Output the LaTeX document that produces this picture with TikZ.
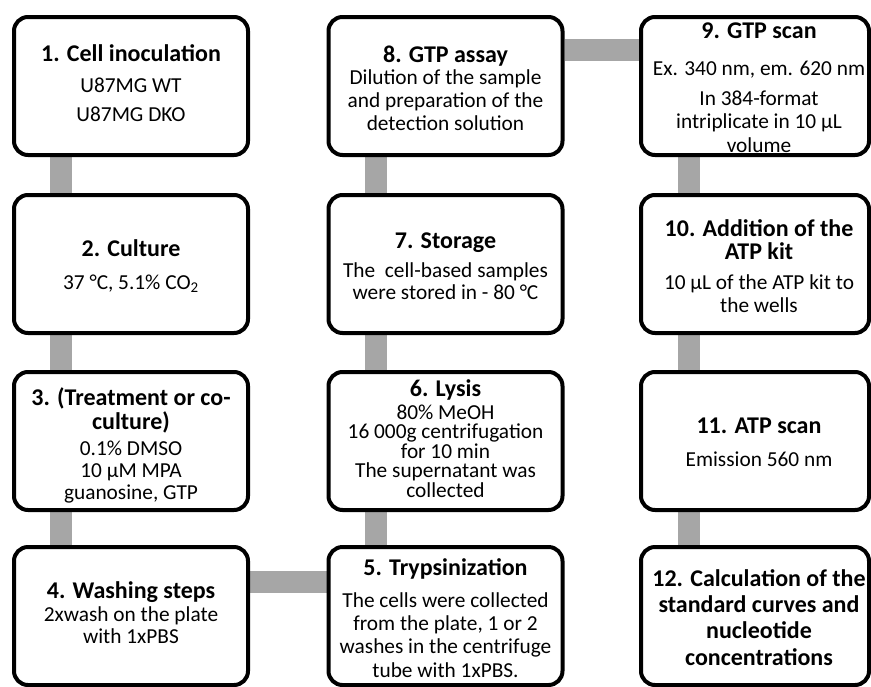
\documentclass[tikz,border=0pt]{standalone}
\usepackage{fontspec}
\setmainfont{Carlito}
\usetikzlibrary{calc,backgrounds}
\definecolor{conngray}{RGB}{166,166,166}
\newcommand{\ttlfont}{\fontsize{18}{20}\selectfont\bfseries}
\newcommand{\bdyfont}{\fontsize{16}{19}\selectfont}
\begin{document}
\begin{tikzpicture}[x=0.75pt,y=-0.75pt,
  box/.style={draw=black, line width=3pt, rounded corners=10.5pt, fill=white,
    minimum width=175.5pt, minimum height=103.5pt, inner sep=0pt},
  narrowbox/.style={box, minimum width=171pt},
  ttl/.style={anchor=base, inner sep=0pt, align=center, font=\ttlfont},
  bdy/.style={anchor=base, inner sep=0pt, align=center, font=\bdyfont},
  conn/.style={draw=conngray, line width=16.5pt}]
\useasboundingbox (0,0) rectangle (871,686);

% boxes
\node[box] (b1) at (131,86) {};
\node[box] (b2) at (131,264) {};
\node[box] (b3) at (131,441) {};
\node[box] (b4) at (131,616) {};
\node[box] (b8) at (445.5,86) {};
\node[box] (b7) at (445.5,264) {};
\node[box] (b6) at (445.5,441) {};
\node[box] (b5) at (445.5,616) {};
\node[narrowbox] (b9) at (755,86) {};
\node[narrowbox] (b10) at (755,264) {};
\node[narrowbox] (b11) at (755,441) {};
\node[narrowbox] (b12) at (755,616) {};

% connectors
\begin{scope}[on background layer]
\draw[conn] ($(b1.south)+(-70,0)$) -- ($(b2.north)+(-70,0)$);
\draw[conn] ($(b2.south)+(-70,0)$) -- ($(b3.north)+(-70,0)$);
\draw[conn] ($(b3.south)+(-70,0)$) -- ($(b4.north)+(-70,0)$);
\draw[conn] ($(b4.east)+(0,-34)$) -- ($(b5.west)+(0,-34)$);
\draw[conn] ($(b5.north)+(-70,0)$) -- ($(b6.south)+(-70,0)$);
\draw[conn] ($(b6.north)+(-70,0)$) -- ($(b7.south)+(-70,0)$);
\draw[conn] ($(b7.north)+(-70,0)$) -- ($(b8.south)+(-70,0)$);
\draw[conn] ($(b8.east)+(0,-36)$) -- ($(b9.west)+(0,-36)$);
\draw[conn] ($(b9.south)+(-66,0)$) -- ($(b10.north)+(-66,0)$);
\draw[conn] ($(b10.south)+(-66,0)$) -- ($(b11.north)+(-66,0)$);
\draw[conn] ($(b11.south)+(-66,0)$) -- ($(b12.north)+(-66,0)$);
\end{scope}

% (multi-line text nodes are placed at the baseline of their last line)
% box 1
\node[ttl] (t1a) at (131,61) {1. Cell inoculation};
\node[bdy] (t1b) at (131,92) {U87MG WT};
\node[bdy] (t1c) at (131,121) {U87MG DKO};
% box 2
\node[ttl] (t2a) at (131,256) {2. Culture};
\node[bdy] (t2b) at (131,289) {37 °C, 5.1\% CO\textsubscript{2}};
% box 3
\node[ttl, font={\fontsize{18}{18}\selectfont\bfseries}] (t3a) at (131,429) {3. (Treatment or co-\\culture)};
\node[bdy, font={\fontsize{16}{16.5}\selectfont}] (t3c) at (131,499) {0.1\% DMSO\\10 µM MPA\\guanosine, GTP};
% box 4
\node[ttl] (t4a) at (131,598) {4. Washing steps};
\node[bdy, font={\fontsize{16}{16.5}\selectfont}] (t4b) at (131,643) {2xwash on the plate\\with 1xPBS};
% box 5
\node[ttl] (t5a) at (445.5,575) {5. Trypsinization};
\node[bdy, font={\fontsize{16}{17.5}\selectfont}] (t5b) at (445.5,677) {The cells were collected\\from the plate, 1 or 2\\washes in the centrifuge\\tube with 1xPBS.};
% box 6
\node[ttl] (t6a) at (445.5,396) {6. Lysis};
\node[bdy] (t6b) at (445.5,419) {80\% MeOH};
\node[bdy, font={\fontsize{16}{13.5}\selectfont}] (t6c) at (445.5,458) {16 000g centrifugation\\for 10 min};
\node[bdy, font={\fontsize{16}{13}\selectfont}] (t6e) at (445.5,497) {The supernatant was\\collected};
% box 7
\node[ttl] (t7a) at (445.5,248) {7. Storage};
\node[bdy, font={\fontsize{16}{16.5}\selectfont}] (t7b) at (445.5,299) {The\ \ cell-based samples\\were stored in - 80 °C};
% box 8
\node[ttl] (t8a) at (445.5,62) {8. GTP assay};
\node[bdy, font={\fontsize{16}{17}\selectfont}] (t8b) at (445.5,130) {Dilution of the sample\\and preparation of the\\detection solution};
% box 9
\node[ttl] (t9a) at (759,38) {9. GTP scan};
\node[bdy] (t9b) at (759,75) {Ex. 340 nm, em. 620 nm};
\node[bdy, font={\fontsize{16}{17.5}\selectfont}] (t9c) at (759,152) {In 384-format\\intriplicate in 10 µL\\volume};
% box 10
\node[ttl, font={\fontsize{18}{17}\selectfont\bfseries}] (t10a) at (759,259) {10. Addition of the\\ATP kit};
\node[bdy, font={\fontsize{16}{17.25}\selectfont}] (t10c) at (759,312) {10 µL of the ATP kit to\\the wells};
% box 11
\node[ttl] (t11a) at (759,433) {11. ATP scan};
\node[bdy] (t11b) at (759,466) {Emission 560 nm};
% box 12
\node[ttl, font={\fontsize{18}{19.75}\selectfont\bfseries}] (t12a) at (759,665) {12. Calculation of the\\standard curves and\\nucleotide\\concentrations};
\end{tikzpicture}
\end{document}
